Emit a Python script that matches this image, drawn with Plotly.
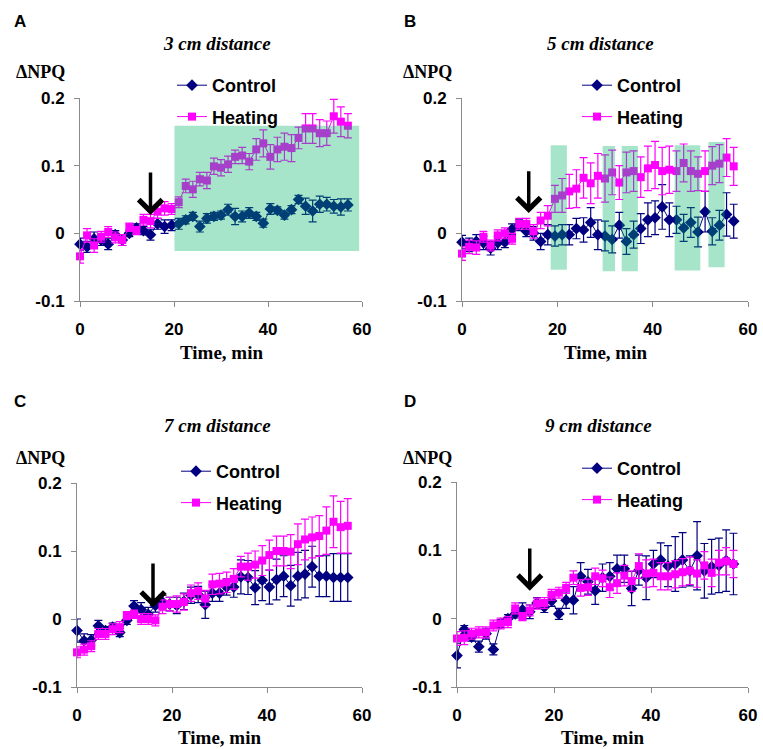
import plotly.graph_objects as go

# ---------------- data ----------------
time_min = [i * 1.5 for i in range(39)]

a_control = [-0.016, -0.02, -0.008, -0.01, -0.016, -0.002, -0.01, 0.0, 0.008, 0.004, -0.002, 0.014, 0.01, 0.012,
             0.014, 0.02, 0.025, 0.01, 0.022, 0.025, 0.027, 0.035, 0.025, 0.025, 0.03, 0.025, 0.015, 0.036, 0.034,
             0.027, 0.035, 0.05, 0.04, 0.033, 0.043, 0.043, 0.04, 0.039, 0.042]
a_control_err = [0.009, 0.008, 0.01, 0.008, 0.008, 0.006, 0.008, 0.005, 0.006, 0.006, 0.008, 0.008, 0.01, 0.008,
                 0.008, 0.006, 0.006, 0.008, 0.007, 0.006, 0.006, 0.008, 0.012, 0.008, 0.008, 0.006, 0.006, 0.008,
                 0.005, 0.006, 0.006, 0.006, 0.012, 0.016, 0.012, 0.01, 0.01, 0.012, 0.009]
a_heating = [-0.034, -0.003, -0.018, -0.005, 0.002, -0.006, -0.01, 0.009, 0.004, 0.02, 0.018, 0.032, 0.037, 0.036,
             0.046, 0.07, 0.065, 0.08, 0.078, 0.099, 0.097, 0.102, 0.113, 0.115, 0.106, 0.124, 0.133, 0.113, 0.124,
             0.128, 0.126, 0.141, 0.155, 0.155, 0.148, 0.148, 0.173, 0.165, 0.159]
a_heating_err = [0.01, 0.01, 0.01, 0.008, 0.008, 0.008, 0.008, 0.006, 0.006, 0.008, 0.01, 0.01, 0.01, 0.008, 0.008,
                 0.01, 0.012, 0.01, 0.012, 0.012, 0.012, 0.012, 0.01, 0.012, 0.012, 0.016, 0.02, 0.018, 0.018, 0.02,
                 0.02, 0.016, 0.022, 0.022, 0.02, 0.018, 0.025, 0.022, 0.018]

b_control = [-0.013, -0.017, -0.012, -0.014, -0.022, -0.014, -0.013, 0.006, 0.012, 0.003, 0.0, -0.012, -0.002,
             -0.004, -0.002, -0.002, 0.007, 0.005, 0.016, -0.002, -0.004, -0.009, 0.012, -0.012, -0.002, 0.007, 0.02,
             0.023, 0.039, 0.02, 0.02, 0.008, 0.016, 0.002, 0.032, 0.003, 0.012, 0.028, 0.018]
b_control_err = [0.01, 0.01, 0.01, 0.01, 0.01, 0.01, 0.008, 0.008, 0.008, 0.008, 0.01, 0.012, 0.015, 0.015, 0.015,
                 0.015, 0.015, 0.018, 0.022, 0.022, 0.022, 0.02, 0.019, 0.019, 0.02, 0.022, 0.025, 0.025, 0.033, 0.025,
                 0.02, 0.02, 0.022, 0.022, 0.03, 0.02, 0.022, 0.032, 0.025]
b_heating = [-0.03, -0.02, -0.021, -0.005, -0.018, -0.003, 0.0, -0.008, 0.014, 0.014, 0.003, 0.019, 0.026, 0.051,
             0.056, 0.062, 0.066, 0.082, 0.074, 0.085, 0.081, 0.09, 0.075, 0.09, 0.092, 0.083, 0.096, 0.101, 0.092,
             0.094, 0.092, 0.104, 0.092, 0.088, 0.092, 0.1, 0.103, 0.112, 0.099]
b_heating_err = [0.01, 0.01, 0.01, 0.008, 0.008, 0.008, 0.008, 0.008, 0.008, 0.008, 0.01, 0.012, 0.015, 0.02, 0.025,
                 0.025, 0.028, 0.03, 0.03, 0.033, 0.035, 0.033, 0.025, 0.03, 0.03, 0.03, 0.033, 0.035, 0.035, 0.035,
                 0.03, 0.028, 0.03, 0.025, 0.03, 0.028, 0.028, 0.028, 0.028]

c_control = [-0.017, -0.032, -0.031, -0.01, -0.017, -0.012, -0.02, -0.002, 0.019, 0.014, 0.007, 0.02, 0.025, 0.022,
             0.02, 0.026, 0.035, 0.036, 0.021, 0.038, 0.038, 0.047, 0.047, 0.062, 0.061, 0.046, 0.057, 0.047, 0.058,
             0.063, 0.049, 0.063, 0.066, 0.077, 0.063, 0.063, 0.061, 0.061, 0.061]
c_control_err = [0.017, 0.01, 0.008, 0.008, 0.006, 0.006, 0.006, 0.006, 0.008, 0.01, 0.01, 0.01, 0.01, 0.01, 0.012,
                 0.012, 0.012, 0.012, 0.02, 0.012, 0.012, 0.012, 0.015, 0.025, 0.025, 0.025, 0.03, 0.025, 0.03, 0.03,
                 0.03, 0.035, 0.035, 0.03, 0.03, 0.03, 0.035, 0.035, 0.035]
c_heating = [-0.049, -0.045, -0.04, -0.022, -0.022, -0.015, -0.012, 0.005, 0.007, 0.0, 0.0, -0.002, 0.018, 0.022,
             0.022, 0.025, 0.038, 0.041, 0.03, 0.051, 0.052, 0.054, 0.059, 0.077, 0.077, 0.08, 0.086, 0.094, 0.1, 0.1,
             0.099, 0.11, 0.117, 0.12, 0.122, 0.13, 0.143, 0.135, 0.137]
c_heating_err = [0.008, 0.008, 0.008, 0.008, 0.008, 0.008, 0.008, 0.006, 0.006, 0.008, 0.008, 0.008, 0.01, 0.01,
                 0.012, 0.012, 0.012, 0.012, 0.012, 0.015, 0.015, 0.015, 0.015, 0.015, 0.02, 0.02, 0.022, 0.022,
                 0.022, 0.022, 0.025, 0.03, 0.03, 0.03, 0.03, 0.035, 0.038, 0.038, 0.04]

d_control = [-0.054, -0.016, -0.027, -0.041, -0.022, -0.045, -0.007, 0.0, 0.007, 0.013, 0.01, 0.023, 0.017, 0.026,
             0.007, 0.027, 0.027, 0.062, 0.054, 0.041, 0.06, 0.062, 0.073, 0.073, 0.044, 0.071, 0.06, 0.08, 0.086,
             0.077, 0.08, 0.086, 0.07, 0.092, 0.07, 0.076, 0.078, 0.085, 0.08]
d_control_err = [0.018, 0.006, 0.006, 0.008, 0.008, 0.008, 0.006, 0.006, 0.006, 0.01, 0.01, 0.008, 0.008, 0.008,
                 0.008, 0.012, 0.02, 0.02, 0.018, 0.02, 0.02, 0.02, 0.02, 0.02, 0.025, 0.022, 0.032, 0.02, 0.025,
                 0.03, 0.04, 0.04, 0.022, 0.05, 0.04, 0.04, 0.04, 0.045, 0.045]
d_heating = [-0.029, -0.028, -0.022, -0.02, -0.02, -0.01, -0.007, -0.005, 0.015, 0.003, 0.012, 0.022, 0.023, 0.035,
             0.038, 0.045, 0.06, 0.045, 0.046, 0.062, 0.059, 0.046, 0.052, 0.063, 0.055, 0.077, 0.066, 0.067, 0.062,
             0.062, 0.065, 0.068, 0.07, 0.066, 0.078, 0.067, 0.082, 0.084, 0.08]
d_heating_err = [0.01, 0.01, 0.008, 0.008, 0.008, 0.008, 0.008, 0.008, 0.008, 0.006, 0.008, 0.008, 0.008, 0.008,
                 0.008, 0.008, 0.01, 0.012, 0.012, 0.012, 0.012, 0.015, 0.015, 0.015, 0.015, 0.018, 0.02, 0.02, 0.02,
                 0.02, 0.02, 0.02, 0.02, 0.02, 0.02, 0.02, 0.018, 0.02, 0.02]

panel_letters = ["A", "B", "C", "D"]
panel_titles = ["3 cm distance", "5 cm distance", "7 cm distance", "9 cm distance"]
series_names = ["Control", "Heating"]
x_ticks = [0, 20, 40, 60]
y_ticks = [-0.1, 0, 0.1, 0.2]
y_tick_labels = ["-0.1", "0", "0.1", "0.2"]
arrow_time = [15, 14, 16, 15]
arrow_tip = [0.027, 0.03, 0.017, 0.041]
arrow_tail = [0.092, 0.094, 0.084, 0.105]
# significance shading (x0, x1, y0, y1) per panel
shade_a = [(20.1, 59.4, -0.026, 0.159)]
shade_b = [(18.6, 22.0, -0.054, 0.13), (29.5, 32.1, -0.056, 0.129), (33.5, 36.9, -0.056, 0.129),
           (44.6, 50.0, -0.055, 0.13), (51.7, 55.1, -0.05, 0.135)]

W, H = 763, 749
NAVY = "#000080"
MAGENTA = "#FF00FF"
SANS = "Liberation Sans, Arial, sans-serif"
SERIF = "Liberation Serif, Times New Roman, serif"


def px(xp):
    return xp / W


def py(yp):
    return 1 - yp / H


# plot-area pixel boxes: (left, right, top, bottom)
boxes = [(80, 362, 98, 301), (462, 748, 98, 301), (77, 362, 483, 687), (457, 748, 482, 687)]
panels = [
    (a_control, a_control_err, a_heating, a_heating_err),
    (b_control, b_control_err, b_heating, b_heating_err),
    (c_control, c_control_err, c_heating, c_heating_err),
    (d_control, d_control_err, d_heating, d_heating_err),
]
shades = [shade_a, shade_b, [], []]
# text anchor positions in pixels
letter_pos = [(20, 21), (410, 21), (20, 401), (410, 401)]
title_pos = [(217, 43), (600, 43), (217, 425), (598, 425)]
ylab_pos = [(40, 72), (427, 72), (40, 458), (427, 458)]
xlab_pos = [(221, 352), (605, 352), (220, 737), (602, 737)]
legend_pos = [(172, 67), (577, 67), (176, 453), (577, 450)]

fig = go.Figure()
layout = dict(
    width=W, height=H, margin=dict(l=0, r=0, t=0, b=0, autoexpand=False),
    paper_bgcolor="white", plot_bgcolor="rgba(0,0,0,0)",
    annotations=[], shapes=[],
)

for i, (ctl, ctl_e, hea, hea_e) in enumerate(panels):
    n = "" if i == 0 else str(i + 1)
    xa, ya = "x" + n, "y" + n
    leg = "legend" + n
    l, r, t, b = boxes[i]
    layout["xaxis" + n] = dict(
        domain=[px(l), px(r)], anchor=ya, range=[0, 60], tickvals=x_ticks,
        showgrid=False, zeroline=False, showline=True, linecolor="#8a8a8a", linewidth=1,
        ticks="outside", ticklen=5, tickcolor="#8a8a8a", ticklabelstandoff=8,
        tickfont=dict(family=SANS, size=17, color="black", weight="bold"),
    )
    layout["yaxis" + n] = dict(
        domain=[py(b), py(t)], anchor=xa, range=[-0.1, 0.2], tickvals=y_ticks, ticktext=y_tick_labels,
        showgrid=False, zeroline=False, showline=True, linecolor="#8a8a8a", linewidth=1,
        ticks="outside", ticklen=5, tickcolor="#8a8a8a", ticklabelstandoff=6,
        tickfont=dict(family=SANS, size=17, color="black", weight="bold"),
    )
    for vals, errs, name, color, sym, size in [
        (ctl, ctl_e, series_names[0], NAVY, "diamond", 9),
        (hea, hea_e, series_names[1], MAGENTA, "square", 8),
    ]:
        fig.add_trace(go.Scatter(
            x=time_min, y=vals, name=name, mode="lines+markers",
            xaxis=xa, yaxis=ya, legend=leg, legendgroup=name + n,
            line=dict(color=color, width=1),
            marker=dict(color=color, symbol=sym, size=size),
            error_y=dict(type="data", array=errs, visible=True, color=color, thickness=1.2, width=4),
            cliponaxis=False,
        ))
    lx, ly = legend_pos[i]
    layout[leg] = dict(
        x=px(lx), y=py(ly), xanchor="left", yanchor="top", bgcolor="rgba(0,0,0,0)",
        font=dict(family=SANS, size=18, color="black", weight="bold"),
        traceorder="grouped", tracegroupgap=5, itemwidth=30,
    )
    for (x0, x1, y0, y1) in shades[i]:
        layout["shapes"].append(dict(
            type="rect", xref=xa, yref=ya, x0=x0, x1=x1, y0=y0, y1=y1,
            fillcolor="rgba(0,180,100,0.35)", line=dict(width=0), layer="above",
        ))
    layout["annotations"].append(dict(
        x=arrow_time[i], y=arrow_tip[i], ax=arrow_time[i], ay=arrow_tail[i],
        xref=xa, yref=ya, axref=xa, ayref=ya, text="", showarrow=True,
        arrowhead=4, arrowsize=1.3, arrowwidth=3.5, arrowcolor="black",
    ))
    ax_, ay_ = letter_pos[i]
    layout["annotations"].append(dict(
        x=px(ax_), y=py(ay_), xref="paper", yref="paper", text=panel_letters[i], showarrow=False,
        xanchor="center", yanchor="middle", font=dict(family=SANS, size=17, color="black", weight="bold"),
    ))
    tx, ty = title_pos[i]
    layout["annotations"].append(dict(
        x=px(tx), y=py(ty), xref="paper", yref="paper", text="<b><i>" + panel_titles[i] + "</i></b>",
        showarrow=False, xanchor="center", yanchor="middle",
        font=dict(family=SERIF, size=19, color="black"),
    ))
    yx, yy = ylab_pos[i]
    layout["annotations"].append(dict(
        x=px(yx), y=py(yy), xref="paper", yref="paper", text="<b>ΔNPQ</b>",
        showarrow=False, xanchor="center", yanchor="middle",
        font=dict(family=SERIF, size=18, color="black"),
    ))
    xx, xy = xlab_pos[i]
    layout["annotations"].append(dict(
        x=px(xx), y=py(xy), xref="paper", yref="paper", text="<b>Time, min</b>",
        showarrow=False, xanchor="center", yanchor="middle",
        font=dict(family=SERIF, size=19, color="black"),
    ))

fig.update_layout(**layout)
fig.write_html(
    "out.html",
    config={"displayModeBar": False},
    post_script="document.body.style.margin='0';document.body.style.overflow='hidden';",
)
